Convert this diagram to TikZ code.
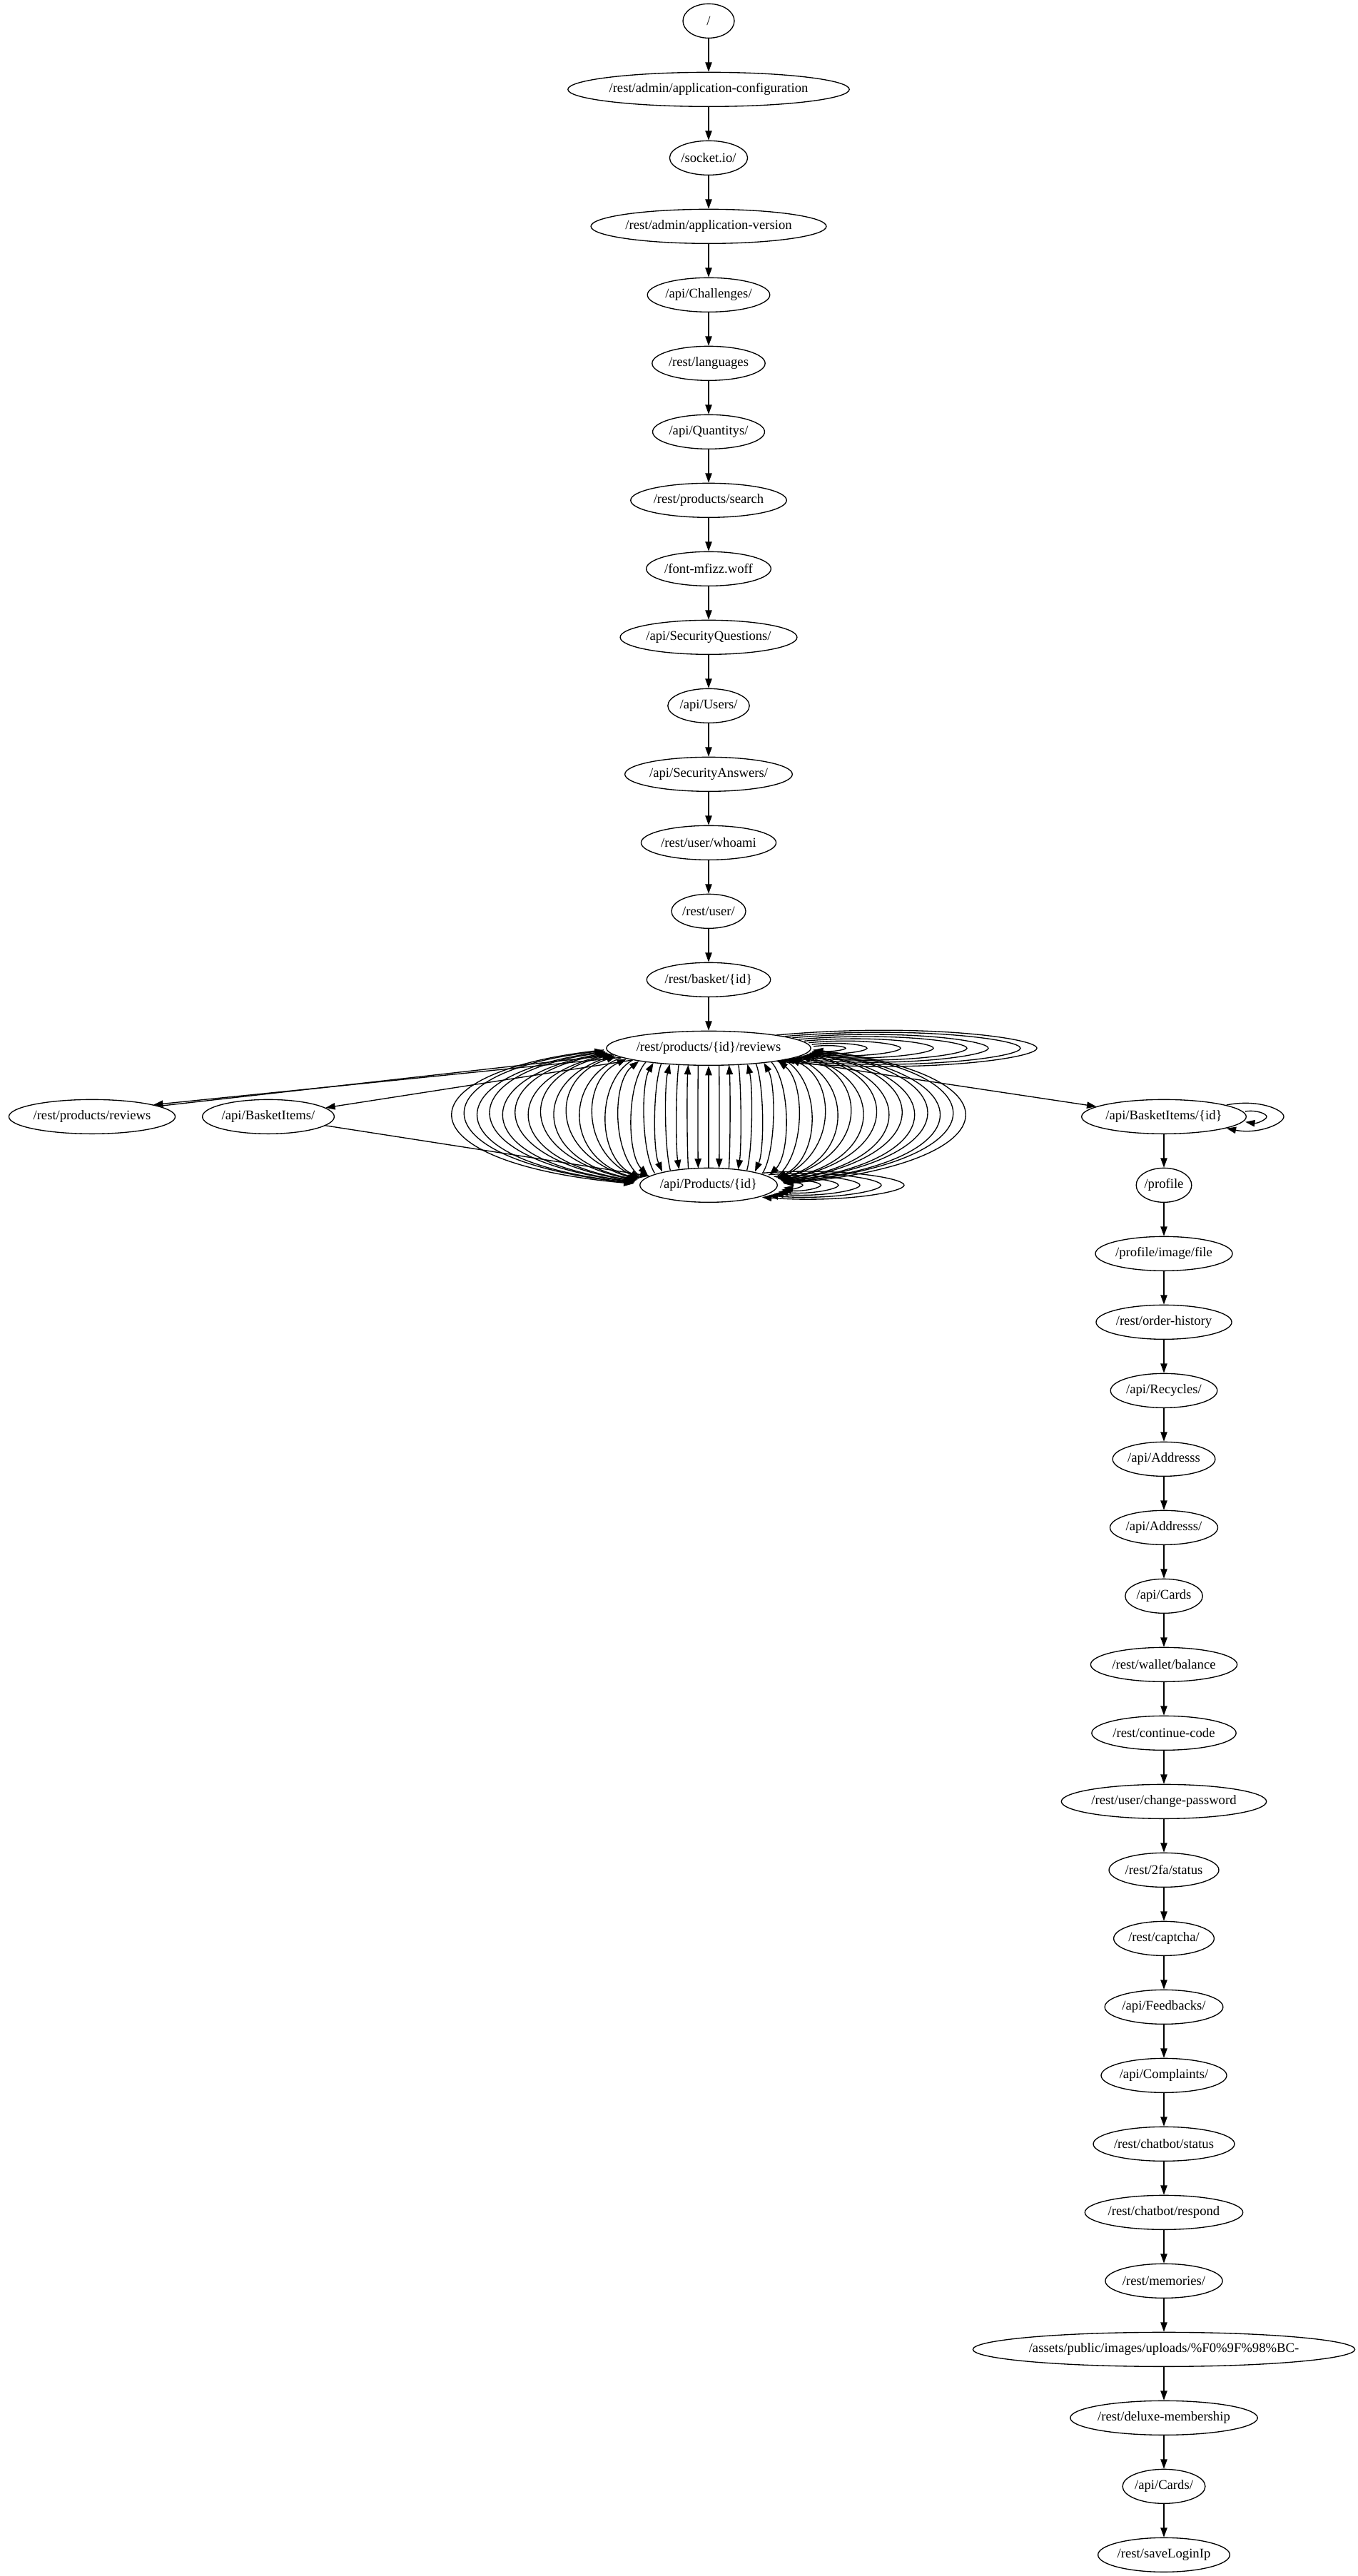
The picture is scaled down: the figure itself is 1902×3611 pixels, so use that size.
\documentclass[tikz,border=0pt]{standalone}
\usepackage{fontspec}
\setmainfont{Liberation Serif}
\usetikzlibrary{arrows.meta,calc,shapes.geometric}
\newlength\gvlen
\newcommand\gvfont{\fontsize{14pt}{16.8pt}\selectfont}
\tikzset{
  gv/.style={ellipse, draw, line width=1pt, inner sep=0pt, minimum height=36pt, font=\gvfont},
  edge/.style={line width=1pt, -{Triangle[length=10pt,width=7pt]}},
}
\newcommand\gvnode[4]{%
  \settowidth\gvlen{\gvfont #4}%
  \pgfmathsetmacro\gvw{max(54,(0.93*\gvlen+16)*1.41421)}%
  \node[gv, minimum width=\gvw pt] (#1) at (#2,{29.33+96*#3}) {#4};%
}
\newcommand\gvloop[5]{% node, rx, theta, tip, half height
  \pgfmathsetmacro\gvsx{#2*cos(#3)}%
  \pgfmathsetmacro\gvsy{24*sin(#3)}%
  \pgfmathsetmacro\gvqx{0.45*\gvsx+0.55*#4}%
  \draw[edge] ($(#1)+(\gvsx,{-\gvsy})$) .. controls ($(#1)+(\gvqx,{-1.4*#5})$) and ($(#1)+(#4,{-0.55*#5})$) .. ($(#1)+(#4,0)$) .. controls ($(#1)+(#4,{0.55*#5})$) and ($(#1)+(\gvqx,{1.4*#5})$) .. ($(#1)+(\gvsx,\gvsy)$);%
}
\begin{document}
\begin{tikzpicture}[x=0.75pt,y=-0.75pt]
\useasboundingbox (0,0) rectangle (1902,3611);
% left column
\gvnode{n0}{993}{0}{/}
\gvnode{n1}{993}{1}{/rest/admin/application-configuration}
\gvnode{n2}{993}{2}{/socket.io/}
\gvnode{n3}{993}{3}{/rest/admin/application-version}
\gvnode{n4}{993}{4}{/api/Challenges/}
\gvnode{n5}{993}{5}{/rest/languages}
\gvnode{n6}{993}{6}{/api/Quantitys/}
\gvnode{n7}{993}{7}{/rest/products/search}
\gvnode{n8}{993}{8}{/font-mfizz.woff}
\gvnode{n9}{993}{9}{/api/SecurityQuestions/}
\gvnode{n10}{993}{10}{/api/Users/}
\gvnode{n11}{993}{11}{/api/SecurityAnswers/}
\gvnode{n12}{993}{12}{/rest/user/whoami}
\gvnode{n13}{993}{13}{/rest/user/}
\gvnode{n14}{993}{14}{/rest/basket/\{id\}}
\gvnode{rv}{993}{15}{/rest/products/\{id\}/reviews}
\gvnode{prr}{129}{16}{/rest/products/reviews}
\gvnode{bi}{376}{16}{/api/BasketItems/}
\gvnode{bid}{1631}{16}{/api/BasketItems/\{id\}}
\gvnode{pr}{993}{17}{/api/Products/\{id\}}
% right column
\gvnode{m17}{1631}{17}{/profile}
\gvnode{m18}{1631}{18}{/profile/image/file}
\gvnode{m19}{1631}{19}{/rest/order-history}
\gvnode{m20}{1631}{20}{/api/Recycles/}
\gvnode{m21}{1631}{21}{/api/Addresss}
\gvnode{m22}{1631}{22}{/api/Addresss/}
\gvnode{m23}{1631}{23}{/api/Cards}
\gvnode{m24}{1631}{24}{/rest/wallet/balance}
\gvnode{m25}{1631}{25}{/rest/continue-code}
\gvnode{m26}{1631}{26}{/rest/user/change-password}
\gvnode{m27}{1631}{27}{/rest/2fa/status}
\gvnode{m28}{1631}{28}{/rest/captcha/}
\gvnode{m29}{1631}{29}{/api/Feedbacks/}
\gvnode{m30}{1631}{30}{/api/Complaints/}
\gvnode{m31}{1631}{31}{/rest/chatbot/status}
\gvnode{m32}{1631}{32}{/rest/chatbot/respond}
\gvnode{m33}{1631}{33}{/rest/memories/}
\gvnode{m34}{1631}{34}{/assets/public/images/uploads/\%F0\%9F\%98\%BC-}
\gvnode{m35}{1631}{35}{/rest/deluxe-membership}
\gvnode{m36}{1631}{36}{/api/Cards/}
\gvnode{m37}{1631}{37}{/rest/saveLoginIp}
% chains
\foreach \i [evaluate=\i as \j using int(\i+1)] in {0,...,13} \draw[edge] (n\i) -- (n\j);
\draw[edge] (n14) -- (rv);
\draw[edge] (bid) -- (m17);
\foreach \i [evaluate=\i as \j using int(\i+1)] in {17,...,36} \draw[edge] (m\i) -- (m\j);
% side edges
\draw[edge] (prr.9) -- (rv.184);
\draw[edge] (rv.186) -- (prr.11);
\draw[edge] (rv) -- (bi);
\draw[edge] (bi) -- (pr);
\draw[edge] (rv) -- (bid);
% bundle between reviews and products
\draw[edge] (pr) -- (rv);
\foreach \ka in {1,...,21}{
 \foreach \sa in {-1,1}{
  \pgfmathsetmacro\arcpt{\ka<13 ? acos(min(15*\ka-0.35*\ka*\ka,146)/148) : 28.5-(\ka-12)*2.5}
  \pgfmathsetmacro\arcpb{\ka<9 ? acos(min(15*\ka-0.4*\ka*\ka,100)/106) : 27-(\ka-8)*1.7}
  \pgfmathsetmacro\arcg{148*cos(\arcpt)}
  \pgfmathsetmacro\arch{106*cos(\arcpb)}
  \pgfmathsetmacro\arcm{\ka<7 ? 15*\ka : 90+17.9*(\ka-6)}
  \pgfmathsetmacro\arccx{\sa*(\arcm-0.125*(\arcg+\arch))/0.75}
  \pgfmathsetmacro\arcax{\sa*\arcg}
  \pgfmathsetmacro\arcay{24*sin(\arcpt)}
  \pgfmathsetmacro\arcbx{\sa*\arch}
  \pgfmathsetmacro\arcby{-24*sin(\arcpb)}
  \pgfmathsetmacro\arcca{\arcay+30}
  \pgfmathsetmacro\arccb{\arcby-30}
  \ifodd\ka\relax
    \draw[edge] ($(rv)+(\arcax,\arcay)$) .. controls ($(rv)+(\arccx,\arcca)$) and ($(pr)+(\arccx,\arccb)$) .. ($(pr)+(\arcbx,\arcby)$);
  \else
    \draw[edge] ($(pr)+(\arcbx,\arcby)$) .. controls ($(pr)+(\arccx,\arccb)$) and ($(rv)+(\arccx,\arcca)$) .. ($(rv)+(\arcax,\arcay)$);
  \fi
 }
}
% self loops
\foreach \th/\T/\H in {6/192/4, 12.3/222/7.1, 18.6/269/10.3, 24.9/315/13.4, 31.2/362/16.6, 37.5/392/19.7, 43.8/437/22.8, 50/460/26}
  {\gvloop{rv}{148}{\th}{\T}{\H}}
\foreach \th/\T/\H in {8/132/4, 15.4/157/6.8, 22.8/182/9.6, 30.2/212/12.4, 37.6/242/15.2, 45/274/18}
  {\gvloop{pr}{106}{\th}{\T}{\H}}
\gvloop{bid}{120}{18}{144}{7}
\gvloop{bid}{120}{43}{168}{18}
\end{tikzpicture}
\end{document}
